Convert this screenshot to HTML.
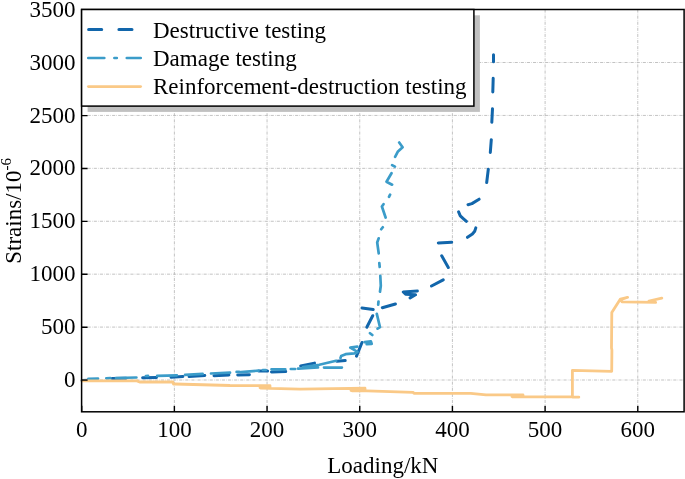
<!DOCTYPE html>
<html><head><meta charset="utf-8"><style>
html,body{margin:0;padding:0;background:#fff;overflow:hidden;}
svg{display:block;will-change:transform;}
</style></head><body>
<svg width="685" height="479" viewBox="0 0 685 479">
<rect x="0" y="0" width="685" height="479" fill="#fff"/>
<path d="M174.38,9.50V411.80M267.06,9.50V411.80M359.74,9.50V411.80M452.42,9.50V411.80M545.10,9.50V411.80M637.78,9.50V411.80M81.60,380.00H684.10M81.60,327.08H684.10M81.60,274.17H684.10M81.60,221.26H684.10M81.60,168.34H684.10M81.60,115.43H684.10M81.60,62.51H684.10" stroke="#b4b4b4" stroke-width="0.8" stroke-dasharray="3.1 1.2 0.6 1.2" fill="none"/>
<path d="M82.0,380.5 L96.0,380.0M112.0,378.5 L126.0,378.2M142.6,377.8 L156.5,377.5M171.1,377.3 L182.9,376.4M189.1,376.6 L204.8,375.5M214.0,375.7 L228.9,375.0M237.7,375.0 L249.4,374.8M258.9,371.1 L267.6,371.1M271.5,371.9 L285.7,371.6M300.7,366.0 L314.5,363.1M336.8,361.2 L345.2,360.6M356.5,356.1 L362.0,342.5M366.8,327.2 L372.7,315.7M362.0,307.9 L373.2,309.6M382.3,307.7 L395.4,304.0M410.1,297.9 L415.5,294.8 L405.6,294.2 L403.3,292.0 L417.4,291.0M431.5,286.0 L443.2,279.8M448.3,267.5 L441.7,255.8M438.3,243.0 L451.7,242.2M467.5,237.3 L472.4,234.0 L474.7,231.2 L475.8,227.9M466.4,221.3 L463.0,218.3 L460.3,215.8 L458.6,211.9M468.0,204.7 L471.9,203.6 L479.1,199.2M486.7,182.5 L488.3,169.2M490.3,152.5 L491.3,139.7M491.8,122.3 L492.5,108.7M492.8,92.0 L493.2,78.3M493.5,61.7 L493.5,54.7" stroke="#1266ab" stroke-width="3" fill="none" stroke-linejoin="round" stroke-linecap="round"/>
<path d="M88.4,378.8 L98.0,378.6M106.3,378.3 L110.3,378.2M116.0,378.0 L136.4,377.5M145.9,376.0 L148.0,375.9M157.2,375.9 L176.9,375.3M185.1,374.8 L202.6,373.9M211.0,373.5 L230.0,372.6M236.6,371.9 L239.2,371.9M241.0,372.2 L258.5,370.6M262.9,370.0 L265.8,370.0M271.5,369.3 L285.3,369.3M290.8,369.0 L295.2,369.0M298.1,368.7 L318.0,367.5M303.0,367.0 L319.3,364.8 L336.1,360.8M324.0,367.6 L341.9,367.6M340.5,357.9 L341.2,356.1 L345.6,354.2 L354.3,353.4 L356.5,352.8M357.3,346.6 L350.3,347.7 L357.5,351.8M364.6,342.1 L370.9,341.3 L371.7,343.8 L366.7,344.2M370.0,333.2 L372.3,335.0M377.6,328.7 L380.0,327.2 L376.8,313.9M378.5,301.5 L378.2,304.7M380.0,291.7 L380.8,285.8 L380.3,275.8M379.3,263.0 L379.7,267.0M378.7,253.3 L377.2,242.5 L378.7,238.3M381.2,229.3 L382.8,227.2M385.6,217.5 L381.9,206.5 L383.5,204.2M389.0,196.9 L390.1,194.6M392.1,184.7 L386.5,181.7 L391.5,173.2M392.1,165.1 L394.9,166.7M395.1,156.9 L397.7,151.8 L402.6,147.3 L399.2,142.5" stroke="#3b9cc9" stroke-width="2.7" fill="none" stroke-linejoin="round" stroke-linecap="round"/>
<path d="M82.0,380.8 L137.0,380.9 L139.6,382.0 L172.8,382.0 L173.5,384.2 L175.0,384.0 L230.0,385.5 L270.0,385.7 L270.0,387.8 L260.0,387.8 L261.0,388.2 L300.0,389.2 L350.0,388.4 L365.0,388.2 L365.0,390.4 L351.0,390.4 L352.0,390.8 L367.0,390.8 L413.0,392.3 L414.0,393.4 L470.7,393.3 L486.0,394.9 L523.0,394.9 L523.0,396.5 L512.0,396.5 L512.5,396.8 L572.4,396.9 L578.8,397.1 L572.4,397.0 L572.4,370.4 L611.7,371.3 L611.9,350.0 L611.5,348.0 L611.8,312.6 L620.4,299.0 L627.6,297.3 L620.8,299.8 L622.0,301.9 L655.7,302.4 L649.0,301.0 L661.8,298.1" stroke="#fac987" stroke-width="2.8" fill="none" stroke-linejoin="round" stroke-linecap="round"/>
<path d="M81.70,411.80v-6M174.38,411.80v-6M267.06,411.80v-6M359.74,411.80v-6M452.42,411.80v-6M545.10,411.80v-6M637.78,411.80v-6M81.60,380.15h6M81.60,327.23h6M81.60,274.32h6M81.60,221.41h6M81.60,168.49h6M81.60,115.58h6M81.60,62.66h6M81.60,9.75h6" stroke="#000" stroke-width="1.4" fill="none"/>
<rect x="81.6" y="9.5" width="602.50" height="402.30" fill="none" stroke="#000" stroke-width="1.5"/>
<rect x="87.60" y="15.30" width="392.30" height="96.60" fill="#c0c0c0"/>
<rect x="81.60" y="9.50" width="392.30" height="96.60" fill="#fff" stroke="#000" stroke-width="1.5"/>
<path d="M88.6,29.5H140.7" stroke="#1266ab" stroke-width="3" stroke-linecap="round" stroke-dasharray="13.1 17.2"/>
<path d="M88.3,58H140.7" stroke="#3b9cc9" stroke-width="2.7" stroke-linecap="round" stroke-dasharray="16 10.1 2.4 10"/>
<path d="M88.4,86.6H140.6" stroke="#fac987" stroke-width="2.8" stroke-linecap="round"/>
<g font-family='"Liberation Serif", serif' font-size="23" fill="#000"><text x="153.00" y="37.50" text-anchor="start" >Destructive testing</text><text x="153.00" y="66.00" text-anchor="start" >Damage testing</text><text x="153.00" y="93.80" text-anchor="start" >Reinforcement-destruction testing</text><text x="75.40" y="387.10" text-anchor="end" >0</text><text x="75.40" y="334.19" text-anchor="end" >500</text><text x="75.40" y="281.27" text-anchor="end" >1000</text><text x="75.40" y="228.36" text-anchor="end" >1500</text><text x="75.40" y="175.44" text-anchor="end" >2000</text><text x="75.40" y="122.53" text-anchor="end" >2500</text><text x="75.40" y="69.61" text-anchor="end" >3000</text><text x="75.40" y="16.70" text-anchor="end" >3500</text><text x="81.70" y="436.80" text-anchor="middle" >0</text><text x="174.38" y="436.80" text-anchor="middle" >100</text><text x="267.06" y="436.80" text-anchor="middle" >200</text><text x="359.74" y="436.80" text-anchor="middle" >300</text><text x="452.42" y="436.80" text-anchor="middle" >400</text><text x="545.10" y="436.80" text-anchor="middle" >500</text><text x="637.78" y="436.80" text-anchor="middle" >600</text><text x="382.85" y="473.00" text-anchor="middle" >Loading/kN</text><text transform="translate(20.5,263.8) rotate(-90)" text-anchor="start">Strains/10<tspan font-size="15" dy="-10">-6</tspan></text></g>
</svg>
</body></html>
